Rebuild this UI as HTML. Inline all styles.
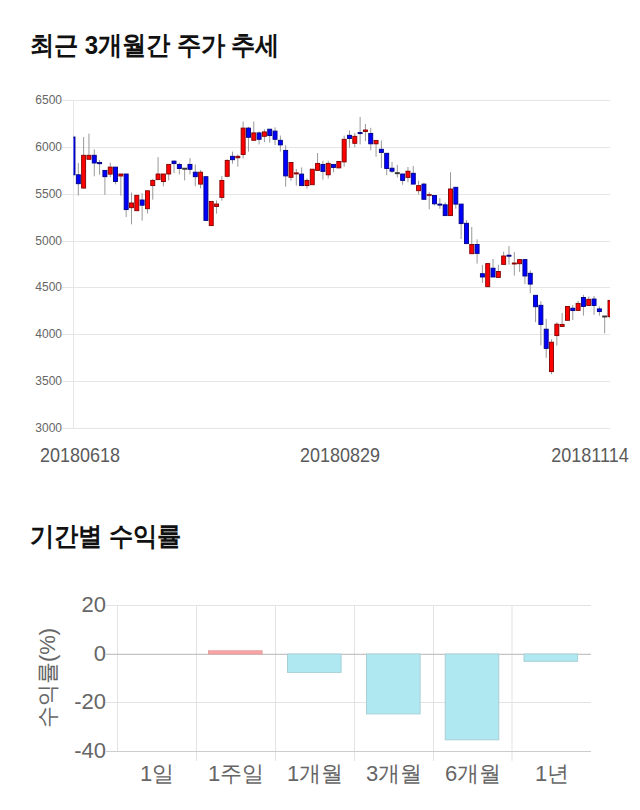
<!DOCTYPE html>
<html><head><meta charset="utf-8">
<style>
html,body{margin:0;padding:0;background:#fff;width:640px;height:810px;overflow:hidden}
body{font-family:"Liberation Sans",sans-serif;position:relative}
.t{position:absolute;left:30px;font-weight:bold;color:#111;white-space:nowrap}
svg{position:absolute;left:0;top:0}
</style></head><body>
<div class="t" id="t1" style="top:28px;font-size:24px;transform:scaleY(1.07);transform-origin:0 0">최근 3개월간 주가 추세</div>
<div class="t" id="t2" style="top:519px;font-size:24px;transform:scaleY(1.07);transform-origin:0 0">기간별 수익률</div>
<svg width="640" height="810" viewBox="0 0 640 810">
<g stroke="#e6e6e6" stroke-width="1" fill="none">
<line x1="62" y1="100.5" x2="610" y2="100.5"/><line x1="62" y1="147.5" x2="610" y2="147.5"/><line x1="62" y1="194.5" x2="610" y2="194.5"/><line x1="62" y1="241.5" x2="610" y2="241.5"/><line x1="62" y1="287.5" x2="610" y2="287.5"/><line x1="62" y1="334.5" x2="610" y2="334.5"/><line x1="62" y1="381.5" x2="610" y2="381.5"/><line x1="62" y1="428.5" x2="610" y2="428.5"/>
<line x1="73.5" y1="100" x2="73.5" y2="429"/>
</g>
<g font-family="Liberation Sans" font-size="12" fill="#666">
<text x="62" y="104.0" text-anchor="end">6500</text><text x="62" y="151.0" text-anchor="end">6000</text><text x="62" y="198.0" text-anchor="end">5500</text><text x="62" y="245.0" text-anchor="end">5000</text><text x="62" y="291.0" text-anchor="end">4500</text><text x="62" y="338.0" text-anchor="end">4000</text><text x="62" y="385.0" text-anchor="end">3500</text><text x="62" y="432.0" text-anchor="end">3000</text>
</g>
<g font-family="Liberation Sans" font-size="18" fill="#5a5a5a" text-anchor="middle">
<text transform="translate(80,461.6) scale(1,1.08)">20180618</text>
<text transform="translate(340,461.6) scale(1,1.08)">20180829</text>
<text transform="translate(590,461.6) scale(1,1.08)">20181114</text>
</g>
<defs><clipPath id="cp"><rect x="73.5" y="90" width="536.5" height="340"/></clipPath></defs>
<g clip-path="url(#cp)">
<g stroke="#999" stroke-width="1">
<line x1="73.00" y1="134.8" x2="73.00" y2="177.8"/><line x1="78.32" y1="163.0" x2="78.32" y2="195.6"/><line x1="83.63" y1="137.0" x2="83.63" y2="188.1"/><line x1="88.95" y1="133.6" x2="88.95" y2="159.3"/><line x1="94.27" y1="149.3" x2="94.27" y2="176.3"/><line x1="99.58" y1="160.0" x2="99.58" y2="174.8"/><line x1="104.90" y1="170.4" x2="104.90" y2="194.8"/><line x1="110.22" y1="162.7" x2="110.22" y2="177.0"/><line x1="115.53" y1="167.1" x2="115.53" y2="184.4"/><line x1="120.85" y1="174.0" x2="120.85" y2="195.6"/><line x1="126.17" y1="174.0" x2="126.17" y2="217.0"/><line x1="131.49" y1="192.6" x2="131.49" y2="224.4"/><line x1="136.80" y1="195.3" x2="136.80" y2="210.7"/><line x1="142.12" y1="193.3" x2="142.12" y2="220.7"/><line x1="147.44" y1="190.8" x2="147.44" y2="213.5"/><line x1="152.75" y1="178.9" x2="152.75" y2="199.6"/><line x1="158.07" y1="157.1" x2="158.07" y2="179.6"/><line x1="163.39" y1="174.0" x2="163.39" y2="186.3"/><line x1="168.70" y1="164.4" x2="168.70" y2="180.4"/><line x1="174.02" y1="160.4" x2="174.02" y2="173.0"/><line x1="179.34" y1="162.6" x2="179.34" y2="174.4"/><line x1="184.65" y1="168.2" x2="184.65" y2="180.4"/><line x1="189.97" y1="158.1" x2="189.97" y2="174.4"/><line x1="195.29" y1="164.5" x2="195.29" y2="186.3"/><line x1="200.60" y1="170.0" x2="200.60" y2="188.5"/><line x1="205.92" y1="176.7" x2="205.92" y2="220.4"/><line x1="211.24" y1="201.4" x2="211.24" y2="225.6"/><line x1="216.55" y1="200.4" x2="216.55" y2="213.7"/><line x1="221.87" y1="176.1" x2="221.87" y2="200.7"/><line x1="227.19" y1="159.3" x2="227.19" y2="177.3"/><line x1="232.50" y1="151.6" x2="232.50" y2="163.7"/><line x1="237.82" y1="154.5" x2="237.82" y2="166.7"/><line x1="243.14" y1="121.5" x2="243.14" y2="158.5"/><line x1="248.46" y1="126.7" x2="248.46" y2="151.6"/><line x1="253.77" y1="121.5" x2="253.77" y2="140.3"/><line x1="259.09" y1="131.4" x2="259.09" y2="144.4"/><line x1="264.41" y1="129.3" x2="264.41" y2="142.2"/><line x1="269.72" y1="129.2" x2="269.72" y2="142.7"/><line x1="275.04" y1="127.4" x2="275.04" y2="145.2"/><line x1="280.36" y1="135.6" x2="280.36" y2="151.6"/><line x1="285.67" y1="145.2" x2="285.67" y2="186.7"/><line x1="290.99" y1="162.5" x2="290.99" y2="180.7"/><line x1="296.31" y1="168.9" x2="296.31" y2="185.6"/><line x1="301.62" y1="167.4" x2="301.62" y2="185.6"/><line x1="306.94" y1="178.5" x2="306.94" y2="188.6"/><line x1="312.26" y1="169.2" x2="312.26" y2="184.7"/><line x1="317.57" y1="153.0" x2="317.57" y2="170.4"/><line x1="322.89" y1="160.7" x2="322.89" y2="179.7"/><line x1="328.21" y1="160.7" x2="328.21" y2="178.5"/><line x1="333.52" y1="164.4" x2="333.52" y2="172.3"/><line x1="338.84" y1="161.5" x2="338.84" y2="167.9"/><line x1="344.16" y1="135.6" x2="344.16" y2="166.7"/><line x1="349.48" y1="130.4" x2="349.48" y2="147.7"/><line x1="354.79" y1="132.9" x2="354.79" y2="147.1"/><line x1="360.11" y1="117.0" x2="360.11" y2="144.4"/><line x1="365.43" y1="124.0" x2="365.43" y2="141.1"/><line x1="370.74" y1="127.8" x2="370.74" y2="150.3"/><line x1="376.06" y1="140.4" x2="376.06" y2="156.7"/><line x1="381.38" y1="140.4" x2="381.38" y2="168.1"/><line x1="386.69" y1="153.3" x2="386.69" y2="175.2"/><line x1="392.01" y1="161.9" x2="392.01" y2="173.0"/><line x1="397.33" y1="164.8" x2="397.33" y2="177.4"/><line x1="402.64" y1="174.0" x2="402.64" y2="184.8"/><line x1="407.96" y1="167.0" x2="407.96" y2="182.3"/><line x1="413.28" y1="166.0" x2="413.28" y2="184.1"/><line x1="418.59" y1="180.8" x2="418.59" y2="194.4"/><line x1="423.91" y1="182.6" x2="423.91" y2="199.3"/><line x1="429.23" y1="192.2" x2="429.23" y2="209.3"/><line x1="434.54" y1="195.5" x2="434.54" y2="205.6"/><line x1="439.86" y1="198.1" x2="439.86" y2="208.8"/><line x1="445.18" y1="202.3" x2="445.18" y2="215.6"/><line x1="450.50" y1="172.2" x2="450.50" y2="215.6"/><line x1="455.81" y1="187.3" x2="455.81" y2="208.8"/><line x1="461.13" y1="204.1" x2="461.13" y2="238.9"/><line x1="466.45" y1="220.1" x2="466.45" y2="243.6"/><line x1="471.76" y1="227.0" x2="471.76" y2="253.7"/><line x1="477.08" y1="239.3" x2="477.08" y2="263.6"/><line x1="482.40" y1="264.8" x2="482.40" y2="282.9"/><line x1="487.71" y1="263.6" x2="487.71" y2="286.7"/><line x1="493.03" y1="258.9" x2="493.03" y2="277.0"/><line x1="498.35" y1="264.8" x2="498.35" y2="277.4"/><line x1="503.66" y1="251.7" x2="503.66" y2="264.4"/><line x1="508.98" y1="246.0" x2="508.98" y2="264.6"/><line x1="514.30" y1="251.9" x2="514.30" y2="275.6"/><line x1="519.61" y1="259.6" x2="519.61" y2="271.9"/><line x1="524.93" y1="259.6" x2="524.93" y2="284.1"/><line x1="530.25" y1="270.4" x2="530.25" y2="293.3"/><line x1="535.56" y1="295.3" x2="535.56" y2="322.2"/><line x1="540.88" y1="301.2" x2="540.88" y2="345.3"/><line x1="546.20" y1="318.8" x2="546.20" y2="357.8"/><line x1="551.51" y1="339.3" x2="551.51" y2="374.1"/><line x1="556.83" y1="322.2" x2="556.83" y2="345.5"/><line x1="562.15" y1="312.9" x2="562.15" y2="326.5"/><line x1="567.47" y1="306.5" x2="567.47" y2="320.3"/><line x1="572.78" y1="304.9" x2="572.78" y2="320.0"/><line x1="578.10" y1="300.8" x2="578.10" y2="310.4"/><line x1="583.42" y1="294.8" x2="583.42" y2="315.6"/><line x1="588.73" y1="296.6" x2="588.73" y2="305.5"/><line x1="594.05" y1="296.0" x2="594.05" y2="314.8"/><line x1="599.37" y1="306.4" x2="599.37" y2="315.6"/><line x1="604.68" y1="316.0" x2="604.68" y2="333.3"/><line x1="610.00" y1="300.4" x2="610.00" y2="318.0"/>
</g>
<rect x="71.00" y="137.0" width="4.0" height="37.8" fill="#0000ff" stroke="#000080" stroke-width="0.9"/><rect x="76.32" y="174.8" width="4.0" height="8.9" fill="#0000ff" stroke="#000080" stroke-width="0.9"/><rect x="81.63" y="155.3" width="4.0" height="32.8" fill="#ff0000" stroke="#800000" stroke-width="0.9"/><rect x="86.95" y="155.3" width="4.0" height="4.0" fill="#ff0000" stroke="#800000" stroke-width="0.9"/><rect x="92.27" y="155.3" width="4.0" height="7.7" fill="#0000ff" stroke="#000080" stroke-width="0.9"/><rect x="97.58" y="162.5" width="4.0" height="1.2" fill="#0000ff" stroke="#000080" stroke-width="0.9"/><rect x="102.90" y="170.4" width="4.0" height="6.3" fill="#0000ff" stroke="#000080" stroke-width="0.9"/><rect x="108.22" y="167.1" width="4.0" height="7.0" fill="#ff0000" stroke="#800000" stroke-width="0.9"/><rect x="113.53" y="167.1" width="4.0" height="14.4" fill="#0000ff" stroke="#000080" stroke-width="0.9"/><rect x="118.85" y="174.0" width="4.0" height="2.0" fill="#ff0000" stroke="#800000" stroke-width="0.9"/><rect x="124.17" y="174.0" width="4.0" height="35.6" fill="#0000ff" stroke="#000080" stroke-width="0.9"/><rect x="129.49" y="203.0" width="4.0" height="4.7" fill="#ff0000" stroke="#800000" stroke-width="0.9"/><rect x="134.80" y="195.3" width="4.0" height="15.4" fill="#ff0000" stroke="#800000" stroke-width="0.9"/><rect x="140.12" y="200.0" width="4.0" height="5.2" fill="#0000ff" stroke="#000080" stroke-width="0.9"/><rect x="145.44" y="190.8" width="4.0" height="17.9" fill="#ff0000" stroke="#800000" stroke-width="0.9"/><rect x="150.75" y="180.4" width="4.0" height="5.2" fill="#ff0000" stroke="#800000" stroke-width="0.9"/><rect x="156.07" y="174.0" width="4.0" height="5.6" fill="#ff0000" stroke="#800000" stroke-width="0.9"/><rect x="161.39" y="174.0" width="4.0" height="7.6" fill="#ff0000" stroke="#800000" stroke-width="0.9"/><rect x="166.70" y="164.4" width="4.0" height="9.6" fill="#ff0000" stroke="#800000" stroke-width="0.9"/><rect x="172.02" y="161.1" width="4.0" height="2.5" fill="#0000ff" stroke="#000080" stroke-width="0.9"/><rect x="177.34" y="164.5" width="4.0" height="4.0" fill="#0000ff" stroke="#000080" stroke-width="0.9"/><rect x="182.65" y="168.2" width="4.0" height="1.0" fill="#333333" stroke="#333333" stroke-width="0.9"/><rect x="187.97" y="164.4" width="4.0" height="4.9" fill="#0000ff" stroke="#000080" stroke-width="0.9"/><rect x="193.29" y="172.2" width="4.0" height="4.5" fill="#0000ff" stroke="#000080" stroke-width="0.9"/><rect x="198.60" y="172.2" width="4.0" height="11.9" fill="#ff0000" stroke="#800000" stroke-width="0.9"/><rect x="203.92" y="176.7" width="4.0" height="43.7" fill="#0000ff" stroke="#000080" stroke-width="0.9"/><rect x="209.24" y="201.4" width="4.0" height="24.2" fill="#ff0000" stroke="#800000" stroke-width="0.9"/><rect x="214.55" y="204.0" width="4.0" height="2.5" fill="#ff0000" stroke="#800000" stroke-width="0.9"/><rect x="219.87" y="180.4" width="4.0" height="17.0" fill="#ff0000" stroke="#800000" stroke-width="0.9"/><rect x="225.19" y="160.4" width="4.0" height="15.9" fill="#ff0000" stroke="#800000" stroke-width="0.9"/><rect x="230.50" y="156.3" width="4.0" height="3.4" fill="#0000ff" stroke="#000080" stroke-width="0.9"/><rect x="235.82" y="156.3" width="4.0" height="1.5" fill="#ff0000" stroke="#800000" stroke-width="0.9"/><rect x="241.14" y="128.1" width="4.0" height="26.4" fill="#ff0000" stroke="#800000" stroke-width="0.9"/><rect x="246.46" y="128.1" width="4.0" height="9.2" fill="#0000ff" stroke="#000080" stroke-width="0.9"/><rect x="251.77" y="132.9" width="4.0" height="7.4" fill="#ff0000" stroke="#800000" stroke-width="0.9"/><rect x="257.09" y="132.9" width="4.0" height="6.4" fill="#0000ff" stroke="#000080" stroke-width="0.9"/><rect x="262.41" y="131.9" width="4.0" height="4.4" fill="#ff0000" stroke="#800000" stroke-width="0.9"/><rect x="267.72" y="129.2" width="4.0" height="6.4" fill="#0000ff" stroke="#000080" stroke-width="0.9"/><rect x="273.04" y="131.1" width="4.0" height="8.2" fill="#0000ff" stroke="#000080" stroke-width="0.9"/><rect x="278.36" y="140.3" width="4.0" height="4.6" fill="#0000ff" stroke="#000080" stroke-width="0.9"/><rect x="283.67" y="150.4" width="4.0" height="25.5" fill="#0000ff" stroke="#000080" stroke-width="0.9"/><rect x="288.99" y="162.5" width="4.0" height="14.8" fill="#ff0000" stroke="#800000" stroke-width="0.9"/><rect x="294.31" y="172.9" width="4.0" height="1.0" fill="#ff0000" stroke="#800000" stroke-width="0.9"/><rect x="299.62" y="174.1" width="4.0" height="11.5" fill="#0000ff" stroke="#000080" stroke-width="0.9"/><rect x="304.94" y="180.4" width="4.0" height="5.2" fill="#ff0000" stroke="#800000" stroke-width="0.9"/><rect x="310.26" y="169.2" width="4.0" height="15.5" fill="#ff0000" stroke="#800000" stroke-width="0.9"/><rect x="315.57" y="163.4" width="4.0" height="7.0" fill="#ff0000" stroke="#800000" stroke-width="0.9"/><rect x="320.89" y="164.4" width="4.0" height="7.0" fill="#0000ff" stroke="#000080" stroke-width="0.9"/><rect x="326.21" y="163.4" width="4.0" height="11.4" fill="#ff0000" stroke="#800000" stroke-width="0.9"/><rect x="331.52" y="164.4" width="4.0" height="3.0" fill="#0000ff" stroke="#000080" stroke-width="0.9"/><rect x="336.84" y="161.5" width="4.0" height="6.4" fill="#ff0000" stroke="#800000" stroke-width="0.9"/><rect x="342.16" y="139.3" width="4.0" height="22.6" fill="#ff0000" stroke="#800000" stroke-width="0.9"/><rect x="347.48" y="135.3" width="4.0" height="3.2" fill="#0000ff" stroke="#000080" stroke-width="0.9"/><rect x="352.79" y="136.3" width="4.0" height="7.0" fill="#ff0000" stroke="#800000" stroke-width="0.9"/><rect x="358.11" y="132.6" width="4.0" height="1.0" fill="#0000ff" stroke="#000080" stroke-width="0.9"/><rect x="363.43" y="130.0" width="4.0" height="1.5" fill="#ff0000" stroke="#800000" stroke-width="0.9"/><rect x="368.74" y="133.4" width="4.0" height="10.4" fill="#0000ff" stroke="#000080" stroke-width="0.9"/><rect x="374.06" y="140.4" width="4.0" height="3.4" fill="#ff0000" stroke="#800000" stroke-width="0.9"/><rect x="379.38" y="149.3" width="4.0" height="3.2" fill="#0000ff" stroke="#000080" stroke-width="0.9"/><rect x="384.69" y="153.3" width="4.0" height="15.2" fill="#0000ff" stroke="#000080" stroke-width="0.9"/><rect x="390.01" y="168.2" width="4.0" height="3.0" fill="#0000ff" stroke="#000080" stroke-width="0.9"/><rect x="395.33" y="172.7" width="4.0" height="1.0" fill="#333333" stroke="#333333" stroke-width="0.9"/><rect x="400.64" y="174.0" width="4.0" height="6.4" fill="#0000ff" stroke="#000080" stroke-width="0.9"/><rect x="405.96" y="171.2" width="4.0" height="6.2" fill="#ff0000" stroke="#800000" stroke-width="0.9"/><rect x="411.28" y="173.3" width="4.0" height="10.8" fill="#0000ff" stroke="#000080" stroke-width="0.9"/><rect x="416.59" y="185.6" width="4.0" height="5.1" fill="#ff0000" stroke="#800000" stroke-width="0.9"/><rect x="421.91" y="184.1" width="4.0" height="15.2" fill="#0000ff" stroke="#000080" stroke-width="0.9"/><rect x="427.23" y="194.4" width="4.0" height="1.2" fill="#882222" stroke="#882222" stroke-width="0.9"/><rect x="432.54" y="195.5" width="4.0" height="8.3" fill="#0000ff" stroke="#000080" stroke-width="0.9"/><rect x="437.86" y="204.1" width="4.0" height="1.0" fill="#0000ff" stroke="#000080" stroke-width="0.9"/><rect x="443.18" y="204.8" width="4.0" height="10.8" fill="#0000ff" stroke="#000080" stroke-width="0.9"/><rect x="448.50" y="189.0" width="4.0" height="26.6" fill="#ff0000" stroke="#800000" stroke-width="0.9"/><rect x="453.81" y="187.3" width="4.0" height="16.8" fill="#0000ff" stroke="#000080" stroke-width="0.9"/><rect x="459.13" y="204.1" width="4.0" height="19.5" fill="#0000ff" stroke="#000080" stroke-width="0.9"/><rect x="464.45" y="223.3" width="4.0" height="20.3" fill="#0000ff" stroke="#000080" stroke-width="0.9"/><rect x="469.76" y="244.5" width="4.0" height="9.2" fill="#ff0000" stroke="#800000" stroke-width="0.9"/><rect x="475.08" y="244.5" width="4.0" height="8.9" fill="#0000ff" stroke="#000080" stroke-width="0.9"/><rect x="480.40" y="273.7" width="4.0" height="3.3" fill="#0000ff" stroke="#000080" stroke-width="0.9"/><rect x="485.71" y="263.6" width="4.0" height="23.1" fill="#ff0000" stroke="#800000" stroke-width="0.9"/><rect x="491.03" y="268.2" width="4.0" height="8.8" fill="#0000ff" stroke="#000080" stroke-width="0.9"/><rect x="496.35" y="271.5" width="4.0" height="5.9" fill="#ff0000" stroke="#800000" stroke-width="0.9"/><rect x="501.66" y="256.0" width="4.0" height="8.4" fill="#ff0000" stroke="#800000" stroke-width="0.9"/><rect x="506.98" y="255.2" width="4.0" height="1.0" fill="#0000ff" stroke="#000080" stroke-width="0.9"/><rect x="512.30" y="263.0" width="4.0" height="1.0" fill="#ff0000" stroke="#800000" stroke-width="0.9"/><rect x="517.61" y="259.6" width="4.0" height="4.1" fill="#ff0000" stroke="#800000" stroke-width="0.9"/><rect x="522.93" y="259.6" width="4.0" height="16.4" fill="#0000ff" stroke="#000080" stroke-width="0.9"/><rect x="528.25" y="273.3" width="4.0" height="10.8" fill="#0000ff" stroke="#000080" stroke-width="0.9"/><rect x="533.56" y="295.3" width="4.0" height="11.4" fill="#0000ff" stroke="#000080" stroke-width="0.9"/><rect x="538.88" y="305.3" width="4.0" height="19.2" fill="#0000ff" stroke="#000080" stroke-width="0.9"/><rect x="544.20" y="329.2" width="4.0" height="19.2" fill="#0000ff" stroke="#000080" stroke-width="0.9"/><rect x="549.51" y="342.2" width="4.0" height="29.4" fill="#ff0000" stroke="#800000" stroke-width="0.9"/><rect x="554.83" y="324.2" width="4.0" height="11.4" fill="#ff0000" stroke="#800000" stroke-width="0.9"/><rect x="560.15" y="324.4" width="4.0" height="2.1" fill="#ff0000" stroke="#800000" stroke-width="0.9"/><rect x="565.47" y="306.5" width="4.0" height="13.8" fill="#ff0000" stroke="#800000" stroke-width="0.9"/><rect x="570.78" y="308.2" width="4.0" height="2.4" fill="#0000ff" stroke="#000080" stroke-width="0.9"/><rect x="576.10" y="303.4" width="4.0" height="7.0" fill="#ff0000" stroke="#800000" stroke-width="0.9"/><rect x="581.42" y="297.5" width="4.0" height="8.9" fill="#0000ff" stroke="#000080" stroke-width="0.9"/><rect x="586.73" y="299.3" width="4.0" height="6.2" fill="#ff0000" stroke="#800000" stroke-width="0.9"/><rect x="592.05" y="299.0" width="4.0" height="6.5" fill="#0000ff" stroke="#000080" stroke-width="0.9"/><rect x="597.37" y="308.9" width="4.0" height="2.7" fill="#0000ff" stroke="#000080" stroke-width="0.9"/><rect x="602.68" y="316.0" width="4.0" height="1.0" fill="#333333" stroke="#333333" stroke-width="0.9"/><rect x="608.00" y="300.4" width="4.0" height="16.3" fill="#ff0000" stroke="#800000" stroke-width="0.9"/>
</g>
<g stroke="#e3e3e3" stroke-width="1" fill="none"><line x1="106" y1="605.5" x2="591" y2="605.5"/><line x1="106" y1="702.5" x2="591" y2="702.5"/><line x1="117.5" y1="605" x2="117.5" y2="751"/><line x1="196.5" y1="605" x2="196.5" y2="761"/><line x1="275.5" y1="605" x2="275.5" y2="761"/><line x1="354.5" y1="605" x2="354.5" y2="761"/><line x1="433.5" y1="605" x2="433.5" y2="761"/><line x1="512.0" y1="605" x2="512.0" y2="761"/></g>
<line x1="106" y1="751.5" x2="591" y2="751.5" stroke="#cccccc" stroke-width="1"/>
<line x1="106" y1="654.3" x2="591" y2="654.3" stroke="#c4c4c4" stroke-width="1.3"/>
<g><rect x="208.5" y="650.8" width="53.6" height="3.2" fill="#ffa3a3" stroke="#e0a0a0" stroke-width="1"/><rect x="287.5" y="654.0" width="53.6" height="18.4" fill="#b0e8f2" stroke="#a8cfd6" stroke-width="1"/><rect x="366.5" y="654.0" width="53.6" height="59.9" fill="#b0e8f2" stroke="#a8cfd6" stroke-width="1"/><rect x="445.2" y="654.0" width="53.6" height="85.8" fill="#b0e8f2" stroke="#a8cfd6" stroke-width="1"/><rect x="524.0" y="654.0" width="53.6" height="7.3" fill="#b0e8f2" stroke="#a8cfd6" stroke-width="1"/></g>
<g font-family="Liberation Sans" font-size="22" fill="#666" text-anchor="end">
<text x="106" y="612">20</text>
<text x="106" y="660.5">0</text>
<text x="106" y="709">-20</text>
<text x="106" y="757.5">-40</text>
</g>
<g font-family="Liberation Sans" font-size="22" fill="#666" text-anchor="middle">
<text x="157" y="781">1일</text>
<text x="236" y="781">1주일</text>
<text x="315" y="781">1개월</text>
<text x="394" y="781">3개월</text>
<text x="473" y="781">6개월</text>
<text x="552" y="781">1년</text>
</g>
<text font-family="Liberation Sans" font-size="22" fill="#666" text-anchor="middle" transform="translate(55,678) rotate(-90)">수익률(%)</text>
</svg>
</body></html>
